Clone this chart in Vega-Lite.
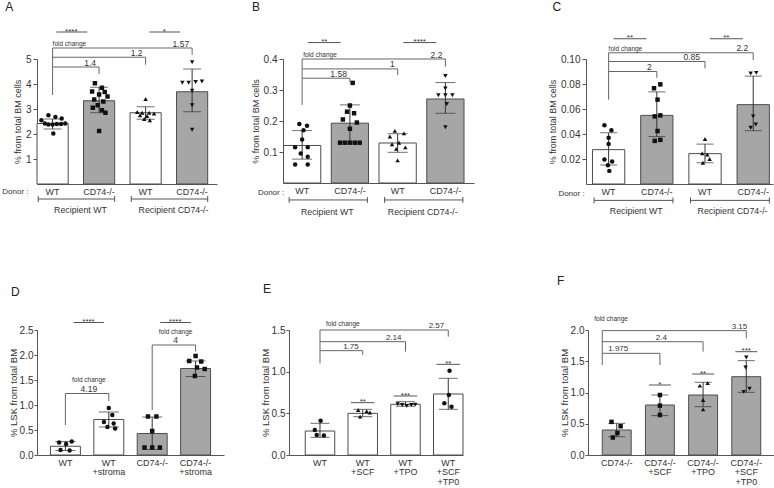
{
"$schema":"https://vega.github.io/schema/vega-lite/v6.json",
"background":"white",
"padding":{"left":2,"top":0,"right":0,"bottom":0},
"config":{
 "view":{"stroke":null},
 "font":"Liberation Sans",
 "title":{"fontSize":12,"fontWeight":"normal","color":"#222","font":"Liberation Sans"},
 "axis":{"labelFont":"Liberation Sans","titleFont":"Liberation Sans","domainColor":"#555","tickColor":"#555","labelColor":"#333","titleColor":"#333","grid":false,"titleFontWeight":"normal"},
 "axisX":{"ticks":false,"labelAngle":0,"labelFontSize":9,"labelPadding":3,"labelLineHeight":9.5,"labelOverlap":false},
 "axisY":{"labelFontSize":10,"titleFontSize":9,"tickSize":4,"labelPadding":2,"titlePadding":3,"labelOverlap":false},
 "text":{"font":"Liberation Sans","color":"#333"}
},
"datasets":{
 "A_b":[{"c":"WT","g":"WT","y":2.42,"lo":2.2,"hi":2.6},{"c":"CD74-/-","g":"CD74-/-","y":3.33,"lo":2.85,"hi":3.87},{"c":"WT ","g":"WT","y":2.85,"lo":2.59,"hi":3.09},{"c":"CD74-/- ","g":"CD74-/-","y":3.69,"lo":2.89,"hi":4.6}],
 "A_p":[{"c":"WT","y":2.75,"j":-0.3},{"c":"WT","y":2.68,"j":0.2},{"c":"WT","y":2.62,"j":0.65},{"c":"WT","y":2.55,"j":-0.8},{"c":"WT","y":2.42,"j":-0.55},{"c":"WT","y":2.38,"j":-0.3},{"c":"WT","y":2.38,"j":0},{"c":"WT","y":2.4,"j":0.3},{"c":"WT","y":2.4,"j":0.6},{"c":"WT","y":2.42,"j":0.9},{"c":"WT","y":2.02,"j":0.05},
  {"c":"CD74-/-","y":4.03,"j":-0.3},{"c":"CD74-/-","y":3.85,"j":0.2},{"c":"CD74-/-","y":3.7,"j":-0.5},{"c":"CD74-/-","y":3.68,"j":0.4},{"c":"CD74-/-","y":3.58,"j":0},{"c":"CD74-/-","y":3.5,"j":0.6},{"c":"CD74-/-","y":3.38,"j":-0.35},{"c":"CD74-/-","y":3.3,"j":0.3},{"c":"CD74-/-","y":3.15,"j":-0.1},{"c":"CD74-/-","y":3.05,"j":-0.45},{"c":"CD74-/-","y":2.95,"j":0.2},{"c":"CD74-/-","y":2.85,"j":0.45},{"c":"CD74-/-","y":2.12,"j":0},
  {"c":"WT ","y":3.4,"j":0},{"c":"WT ","y":2.88,"j":-0.6},{"c":"WT ","y":2.85,"j":-0.25},{"c":"WT ","y":2.85,"j":0.25},{"c":"WT ","y":2.82,"j":0.6},{"c":"WT ","y":2.75,"j":-0.4},{"c":"WT ","y":2.72,"j":0.1},{"c":"WT ","y":2.6,"j":-0.1},{"c":"WT ","y":2.55,"j":0.3},
  {"c":"CD74-/- ","y":4.87,"j":0},{"c":"CD74-/- ","y":4.05,"j":-0.7},{"c":"CD74-/- ","y":4.05,"j":-0.25},{"c":"CD74-/- ","y":4.08,"j":0.25},{"c":"CD74-/- ","y":4.1,"j":0.7},{"c":"CD74-/- ","y":3.73,"j":0},{"c":"CD74-/- ","y":3.15,"j":0},{"c":"CD74-/- ","y":2.17,"j":0}],
 "B_b":[{"c":"WT","g":"WT","y":0.121,"lo":0.077,"hi":0.169},{"c":"CD74-/-","g":"CD74-/-","y":0.193,"lo":0.131,"hi":0.252},{"c":"WT ","g":"WT","y":0.129,"lo":0.099,"hi":0.159},{"c":"CD74-/- ","g":"CD74-/-","y":0.271,"lo":0.225,"hi":0.324}],
 "B_p":[{"c":"WT","y":0.19,"j":-0.2},{"c":"WT","y":0.185,"j":0.35},{"c":"WT","y":0.17,"j":0.1},{"c":"WT","y":0.14,"j":0},{"c":"WT","y":0.115,"j":-0.5},{"c":"WT","y":0.115,"j":0.4},{"c":"WT","y":0.095,"j":-0.1},{"c":"WT","y":0.085,"j":0.4},{"c":"WT","y":0.06,"j":-0.5},{"c":"WT","y":0.06,"j":0.4},
  {"c":"CD74-/-","y":0.323,"j":0.2},{"c":"CD74-/-","y":0.25,"j":0},{"c":"CD74-/-","y":0.23,"j":-0.2},{"c":"CD74-/-","y":0.225,"j":0.3},{"c":"CD74-/-","y":0.205,"j":-0.5},{"c":"CD74-/-","y":0.195,"j":0.5},{"c":"CD74-/-","y":0.175,"j":0},{"c":"CD74-/-","y":0.13,"j":-0.7},{"c":"CD74-/-","y":0.13,"j":-0.35},{"c":"CD74-/-","y":0.13,"j":0},{"c":"CD74-/-","y":0.13,"j":0.35},{"c":"CD74-/-","y":0.13,"j":0.7},
  {"c":"WT ","y":0.168,"j":-0.2},{"c":"WT ","y":0.16,"j":0.45},{"c":"WT ","y":0.15,"j":-0.55},{"c":"WT ","y":0.13,"j":0.1},{"c":"WT ","y":0.125,"j":-0.4},{"c":"WT ","y":0.115,"j":0.55},{"c":"WT ","y":0.11,"j":-0.1},{"c":"WT ","y":0.073,"j":0},
  {"c":"CD74-/- ","y":0.345,"j":0},{"c":"CD74-/- ","y":0.305,"j":0},{"c":"CD74-/- ","y":0.283,"j":-0.5},{"c":"CD74-/- ","y":0.283,"j":0},{"c":"CD74-/- ","y":0.283,"j":0.5},{"c":"CD74-/- ","y":0.255,"j":0.1},{"c":"CD74-/- ","y":0.18,"j":0}],
 "C_b":[{"c":"WT","g":"WT","y":0.0275,"lo":0.0152,"hi":0.041},{"c":"CD74-/-","g":"CD74-/-","y":0.0549,"lo":0.0379,"hi":0.0737},{"c":"WT ","g":"WT","y":0.0243,"lo":0.017,"hi":0.0319},{"c":"CD74-/- ","g":"CD74-/-","y":0.0635,"lo":0.0426,"hi":0.0863}],
 "C_p":[{"c":"WT","y":0.047,"j":-0.3},{"c":"WT","y":0.043,"j":0.2},{"c":"WT","y":0.037,"j":0},{"c":"WT","y":0.032,"j":0},{"c":"WT","y":0.0196,"j":-0.3},{"c":"WT","y":0.018,"j":0.25},{"c":"WT","y":0.015,"j":-0.05},{"c":"WT","y":0.0105,"j":0.05},
  {"c":"CD74-/-","y":0.0797,"j":0.25},{"c":"CD74-/-","y":0.0766,"j":-0.2},{"c":"CD74-/-","y":0.0675,"j":0.05},{"c":"CD74-/-","y":0.0549,"j":0.25},{"c":"CD74-/-","y":0.0541,"j":-0.15},{"c":"CD74-/-","y":0.0424,"j":0.05},{"c":"CD74-/-","y":0.0353,"j":0.25},{"c":"CD74-/-","y":0.0345,"j":-0.15},
  {"c":"WT ","y":0.036,"j":0},{"c":"WT ","y":0.0245,"j":-0.2},{"c":"WT ","y":0.0235,"j":0.17},{"c":"WT ","y":0.02,"j":0.33},{"c":"WT ","y":0.017,"j":-0.15},
  {"c":"CD74-/- ","y":0.0884,"j":-0.18},{"c":"CD74-/- ","y":0.0889,"j":0.22},{"c":"CD74-/- ","y":0.0541,"j":0},{"c":"CD74-/- ","y":0.0476,"j":0.18},{"c":"CD74-/- ","y":0.045,"j":-0.18}],
 "D_b":[{"c":"WT","g":"WT","y":0.175,"lo":0.09,"hi":0.27},{"c":"WT|+stroma","g":"WT","y":0.71,"lo":0.56,"hi":0.86},{"c":"CD74-/-","g":"CD74-/-","y":0.43,"lo":0.11,"hi":0.76},{"c":"CD74-/-|+stroma","g":"CD74-/-","y":1.73,"lo":1.57,"hi":1.88}],
 "D_p":[{"c":"WT","y":0.27,"j":0.45},{"c":"WT","y":0.25,"j":-0.45},{"c":"WT","y":0.22,"j":0.05},{"c":"WT","y":0.1,"j":-0.35},{"c":"WT","y":0.09,"j":0.3},
  {"c":"WT|+stroma","y":0.94,"j":0},{"c":"WT|+stroma","y":0.8,"j":0.25},{"c":"WT|+stroma","y":0.66,"j":-0.35},{"c":"WT|+stroma","y":0.63,"j":0.35},{"c":"WT|+stroma","y":0.56,"j":-0.1},{"c":"WT|+stroma","y":0.53,"j":0.45},
  {"c":"CD74-/-","y":0.77,"j":-0.3},{"c":"CD74-/-","y":0.77,"j":0.3},{"c":"CD74-/-","y":0.48,"j":0},{"c":"CD74-/-","y":0.15,"j":-0.55},{"c":"CD74-/-","y":0.15,"j":0},{"c":"CD74-/-","y":0.15,"j":0.55},
  {"c":"CD74-/-|+stroma","y":1.98,"j":0},{"c":"CD74-/-|+stroma","y":1.88,"j":-0.45},{"c":"CD74-/-|+stroma","y":1.87,"j":0.4},{"c":"CD74-/-|+stroma","y":1.75,"j":0.1},{"c":"CD74-/-|+stroma","y":1.72,"j":0.65},{"c":"CD74-/-|+stroma","y":1.58,"j":-0.05}],
 "E_b":[{"c":"WT","g":"WT","y":0.288,"lo":0.212,"hi":0.38},{"c":"WT|+SCF","g":"WT","y":0.5,"lo":0.46,"hi":0.548},{"c":"WT|+TPO","g":"WT","y":0.608,"lo":0.585,"hi":0.64},{"c":"WT|+SCF|+TP0","g":"WT","y":0.732,"lo":0.548,"hi":0.92}],
 "E_p":[{"c":"WT","y":0.41,"j":0.05},{"c":"WT","y":0.3,"j":-0.4},{"c":"WT","y":0.24,"j":-0.25},{"c":"WT","y":0.235,"j":0.3},
  {"c":"WT|+SCF","y":0.54,"j":-0.35},{"c":"WT|+SCF","y":0.525,"j":0.3},{"c":"WT|+SCF","y":0.51,"j":0.55},{"c":"WT|+SCF","y":0.46,"j":-0.2},
  {"c":"WT|+TPO","y":0.61,"j":-0.6},{"c":"WT|+TPO","y":0.6,"j":-0.25},{"c":"WT|+TPO","y":0.59,"j":0.1},{"c":"WT|+TPO","y":0.6,"j":0.45},{"c":"WT|+TPO","y":0.605,"j":0.75},
  {"c":"WT|+SCF|+TP0","y":1.01,"j":0.1},{"c":"WT|+SCF|+TP0","y":0.72,"j":0.05},{"c":"WT|+SCF|+TP0","y":0.62,"j":-0.3},{"c":"WT|+SCF|+TP0","y":0.58,"j":0.25}],
 "F_b":[{"c":"CD74-/-","g":"CD74-/-","y":0.4,"lo":0.293,"hi":0.507},{"c":"CD74-/-|+SCF","g":"CD74-/-","y":0.8,"lo":0.63,"hi":0.96},{"c":"CD74-/-|+TPO","g":"CD74-/-","y":0.96,"lo":0.773,"hi":1.163},{"c":"CD74-/-|+SCF|+TP0","g":"CD74-/-","y":1.253,"lo":1.003,"hi":1.51}],
 "F_p":[{"c":"CD74-/-","y":0.53,"j":-0.4},{"c":"CD74-/-","y":0.46,"j":0.3},{"c":"CD74-/-","y":0.35,"j":0.05},{"c":"CD74-/-","y":0.28,"j":-0.3},
  {"c":"CD74-/-|+SCF","y":0.96,"j":0},{"c":"CD74-/-|+SCF","y":0.79,"j":0},{"c":"CD74-/-|+SCF","y":0.64,"j":0},
  {"c":"CD74-/-|+TPO","y":1.15,"j":0.35},{"c":"CD74-/-|+TPO","y":1.11,"j":-0.25},{"c":"CD74-/-|+TPO","y":0.88,"j":0},{"c":"CD74-/-|+TPO","y":0.73,"j":0},
  {"c":"CD74-/-|+SCF|+TP0","y":1.56,"j":0},{"c":"CD74-/-|+SCF|+TP0","y":1.4,"j":-0.05},{"c":"CD74-/-|+SCF|+TP0","y":1.06,"j":0.25},{"c":"CD74-/-|+SCF|+TP0","y":1.01,"j":-0.2}]
},
"spacing":58,
"vconcat":[
{"spacing":34,"hconcat":[
 {"width":180,"height":125,
  "title":{"text":"A","anchor":"start","frame":"bounds","offset":14,"dx":3},
  "resolve":{"scale":{"xOffset":"independent"}},
  "layer":[
   {"data":{"name":"A_b"},"mark":{"type":"bar","stroke":"#4d4d4d","strokeWidth":1},
    "encoding":{"x":{"field":"c","type":"nominal","scale":{"domain":["WT","CD74-/-","WT ","CD74-/- "],"paddingInner":0.33,"paddingOuter":0.1,"align":0},"axis":{"title":null,"labelExpr":"trim(datum.label)"}},
     "y":{"field":"y","type":"quantitative","scale":{"domain":[0,5],"nice":false},"axis":{"title":"% from total BM cells","values":[1,2,3,4,5],"format":"d","tickCount":20,"labelOverlap":false}},
     "fill":{"field":"g","type":"nominal","scale":{"domain":["WT","CD74-/-"],"range":["#ffffff","#a6a6a6"]},"legend":null}}},
   {"data":{"name":"A_b"},"mark":{"type":"rule","color":"#333"},"encoding":{"x":{"field":"c","type":"nominal"},"y":{"field":"lo","type":"quantitative"},"y2":{"field":"hi"}}},
   {"data":{"name":"A_b"},"transform":[{"fold":["lo","hi"],"as":["k","v"]}],"mark":{"type":"tick","orient":"horizontal","size":18,"thickness":1,"color":"#333"},"encoding":{"x":{"field":"c","type":"nominal"},"y":{"field":"v","type":"quantitative"}}},
   {"data":{"name":"A_p"},"mark":{"type":"point","filled":true,"color":"#111","size":20,"opacity":1},
    "encoding":{"x":{"field":"c","type":"nominal"},"xOffset":{"field":"j","type":"quantitative","scale":{"domain":[-1,1],"range":[1.6,29.6]}},"y":{"field":"y","type":"quantitative"},
     "shape":{"field":"c","type":"nominal","scale":{"domain":["WT","CD74-/-","WT ","CD74-/- "],"range":["circle","square","triangle-up","triangle-down"]},"legend":null}}},
   {"data":{"values":[{"c":"WT","y":3.56,"y2":5.44},{"c":"CD74-/-","y":4.4,"y2":4.68},{"c":"WT ","y":4.77,"y2":5.07},{"c":"CD74-/- ","y":5.17,"y2":5.44}]},"mark":{"type":"rule","color":"#666"},"encoding":{"x":{"field":"c","type":"nominal"},"y":{"field":"y","type":"quantitative"},"y2":{"field":"y2"}}},
   {"data":{"values":[{"c":"WT","c2":"CD74-/-","y":4.68},{"c":"WT","c2":"WT ","y":5.07},{"c":"WT","c2":"CD74-/- ","y":5.44}]},"mark":{"type":"rule","color":"#666"},"encoding":{"x":{"field":"c","type":"nominal"},"x2":{"field":"c2"},"y":{"field":"y","type":"quantitative"}}},
   {"data":{"values":[{"c":"WT","c2":"CD74-/-","y":6.08},{"c":"WT ","c2":"CD74-/- ","y":6.08}]},"mark":{"type":"rule","color":"#555"},"encoding":{"x":{"field":"c","type":"nominal","bandPosition":0.62},"x2":{"field":"c2","bandPosition":0.12},"y":{"field":"y","type":"quantitative"}}},
   {"data":{"values":[{"c":"WT","y":6.08,"t":"****"},{"c":"WT ","y":6.08,"t":"*"}]},"mark":{"type":"text","align":"center","baseline":"alphabetic","dx":15,"dy":1.5,"fontSize":8},"encoding":{"x":{"field":"c","type":"nominal","bandPosition":0.62},"y":{"field":"y","type":"quantitative"},"text":{"field":"t"}}},
   {"data":{"values":[{"c":"WT","c2":"CD74-/-","y":-0.6},{"c":"WT ","c2":"CD74-/- ","y":-0.6}]},"mark":{"type":"rule","color":"#555"},"encoding":{"x":{"field":"c","type":"nominal","bandPosition":0.04},"x2":{"field":"c2","bandPosition":1},"y":{"field":"y","type":"quantitative"}}},
   {"data":{"values":[{"c":"WT","y":-0.48,"y2":-0.72},{"c":"WT ","y":-0.48,"y2":-0.72}]},"mark":{"type":"rule","color":"#555"},"encoding":{"x":{"field":"c","type":"nominal","bandPosition":0.04},"y":{"field":"y","type":"quantitative"},"y2":{"field":"y2"}}},
   {"data":{"values":[{"c":"CD74-/-","y":-0.48,"y2":-0.72},{"c":"CD74-/- ","y":-0.48,"y2":-0.72}]},"mark":{"type":"rule","color":"#555"},"encoding":{"x":{"field":"c","type":"nominal","bandPosition":1},"y":{"field":"y","type":"quantitative"},"y2":{"field":"y2"}}},
   {"data":{"values":[{"c":"CD74-/-","y":4.68,"t":"1.4"},{"c":"WT ","y":5.07,"t":"1.2"},{"c":"CD74-/- ","y":5.44,"t":"1.57"}]},"mark":{"type":"text","align":"right","baseline":"alphabetic","dx":-3,"dy":-1.5,"fontSize":8.5},"encoding":{"x":{"field":"c","type":"nominal"},"y":{"field":"y","type":"quantitative"},"text":{"field":"t"}}},
   {"data":{"values":[{"c":"WT","y":5.44,"t":"fold change"}]},"mark":{"type":"text","align":"left","baseline":"alphabetic","dx":0,"dy":-2,"fontSize":6.5},"encoding":{"x":{"field":"c","type":"nominal"},"y":{"field":"y","type":"quantitative"},"text":{"field":"t"}}},
   {"data":{"values":[{"c":"WT","y":-0.32,"t":"Donor :"}]},"mark":{"type":"text","align":"right","baseline":"middle","dx":-24,"fontSize":8},"encoding":{"x":{"field":"c","type":"nominal"},"y":{"field":"y","type":"quantitative"},"text":{"field":"t"}}},
   {"data":{"values":[{"c":"CD74-/-","y":-1.04,"t":"Recipient WT"},{"c":"CD74-/- ","y":-1.04,"t":"Recipient CD74-/-"}]},"mark":{"type":"text","align":"center","baseline":"middle","dx":-3,"fontSize":8.8},"encoding":{"x":{"field":"c","type":"nominal","bandPosition":0},"y":{"field":"y","type":"quantitative"},"text":{"field":"t"}}}
  ]},
 {"spacing":74,"hconcat":[
 {"width":191,"height":124,
  "title":{"text":"B","anchor":"start","frame":"bounds","offset":24,"dx":1},
  "resolve":{"scale":{"xOffset":"independent"}},
  "layer":[
   {"data":{"name":"B_b"},"mark":{"type":"bar","stroke":"#4d4d4d","strokeWidth":1},
    "encoding":{"x":{"field":"c","type":"nominal","scale":{"domain":["WT","CD74-/-","WT ","CD74-/- "],"paddingInner":0.22,"paddingOuter":0.11,"align":0.05},"axis":{"title":null,"labelExpr":"trim(datum.label)"}},
     "y":{"field":"y","type":"quantitative","scale":{"domain":[0,0.4],"nice":false},"axis":{"title":"% from total BM cells","values":[0.1,0.2,0.3,0.4],"format":".1f","tickCount":20,"labelOverlap":false}},
     "fill":{"field":"g","type":"nominal","scale":{"domain":["WT","CD74-/-"],"range":["#ffffff","#a6a6a6"]},"legend":null}}},
   {"data":{"name":"B_b"},"mark":{"type":"rule","color":"#333"},"encoding":{"x":{"field":"c","type":"nominal"},"y":{"field":"lo","type":"quantitative"},"y2":{"field":"hi"}}},
   {"data":{"name":"B_b"},"transform":[{"fold":["lo","hi"],"as":["k","v"]}],"mark":{"type":"tick","orient":"horizontal","size":20,"thickness":1,"color":"#333"},"encoding":{"x":{"field":"c","type":"nominal"},"y":{"field":"v","type":"quantitative"}}},
   {"data":{"name":"B_p"},"mark":{"type":"point","filled":true,"color":"#111","size":20,"opacity":1},
    "encoding":{"x":{"field":"c","type":"nominal"},"xOffset":{"field":"j","type":"quantitative","scale":{"domain":[-1,1],"range":[4.6,32.6]}},"y":{"field":"y","type":"quantitative"},
     "shape":{"field":"c","type":"nominal","scale":{"domain":["WT","CD74-/-","WT ","CD74-/- "],"range":["circle","square","triangle-up","triangle-down"]},"legend":null}}},
   {"data":{"values":[{"c":"WT","y":0.252,"y2":0.4},{"c":"CD74-/-","y":0.324,"y2":0.338},{"c":"WT ","y":0.348,"y2":0.368},{"c":"CD74-/- ","y":0.375,"y2":0.4}]},"mark":{"type":"rule","color":"#666"},"encoding":{"x":{"field":"c","type":"nominal"},"y":{"field":"y","type":"quantitative"},"y2":{"field":"y2"}}},
   {"data":{"values":[{"c":"WT","c2":"CD74-/-","y":0.338},{"c":"WT","c2":"WT ","y":0.368},{"c":"WT","c2":"CD74-/- ","y":0.4}]},"mark":{"type":"rule","color":"#666"},"encoding":{"x":{"field":"c","type":"nominal"},"x2":{"field":"c2"},"y":{"field":"y","type":"quantitative"}}},
   {"data":{"values":[{"c":"WT","c2":"CD74-/-","y":0.453},{"c":"WT ","c2":"CD74-/- ","y":0.453}]},"mark":{"type":"rule","color":"#555"},"encoding":{"x":{"field":"c","type":"nominal","bandPosition":0.65},"x2":{"field":"c2","bandPosition":0.25},"y":{"field":"y","type":"quantitative"}}},
   {"data":{"values":[{"c":"WT","y":0.453,"t":"**"},{"c":"WT ","y":0.453,"t":"****"}]},"mark":{"type":"text","align":"center","baseline":"alphabetic","dx":16.5,"dy":1.5,"fontSize":8},"encoding":{"x":{"field":"c","type":"nominal","bandPosition":0.65},"y":{"field":"y","type":"quantitative"},"text":{"field":"t"}}},
   {"data":{"values":[{"c":"WT","c2":"CD74-/-","y":-0.0547},{"c":"WT ","c2":"CD74-/- ","y":-0.0547}]},"mark":{"type":"rule","color":"#555"},"encoding":{"x":{"field":"c","type":"nominal","bandPosition":0.15},"x2":{"field":"c2","bandPosition":0.97},"y":{"field":"y","type":"quantitative"}}},
   {"data":{"values":[{"c":"WT","y":-0.045,"y2":-0.064},{"c":"WT ","y":-0.045,"y2":-0.064}]},"mark":{"type":"rule","color":"#555"},"encoding":{"x":{"field":"c","type":"nominal","bandPosition":0.15},"y":{"field":"y","type":"quantitative"},"y2":{"field":"y2"}}},
   {"data":{"values":[{"c":"CD74-/-","y":-0.045,"y2":-0.064},{"c":"CD74-/- ","y":-0.045,"y2":-0.064}]},"mark":{"type":"rule","color":"#555"},"encoding":{"x":{"field":"c","type":"nominal","bandPosition":0.97},"y":{"field":"y","type":"quantitative"},"y2":{"field":"y2"}}},
   {"data":{"values":[{"c":"CD74-/-","y":0.338,"t":"1.58"},{"c":"WT ","y":0.368,"t":"1"},{"c":"CD74-/- ","y":0.4,"t":"2.2"}]},"mark":{"type":"text","align":"right","baseline":"alphabetic","dx":-3,"dy":-1.5,"fontSize":8.5},"encoding":{"x":{"field":"c","type":"nominal"},"y":{"field":"y","type":"quantitative"},"text":{"field":"t"}}},
   {"data":{"values":[{"c":"WT","y":0.4,"t":"fold change"}]},"mark":{"type":"text","align":"left","baseline":"alphabetic","dx":1,"dy":-2,"fontSize":6.5},"encoding":{"x":{"field":"c","type":"nominal"},"y":{"field":"y","type":"quantitative"},"text":{"field":"t"}}},
   {"data":{"values":[{"c":"WT","y":-0.032,"t":"Donor :"}]},"mark":{"type":"text","align":"right","baseline":"middle","dx":-18,"fontSize":8},"encoding":{"x":{"field":"c","type":"nominal"},"y":{"field":"y","type":"quantitative"},"text":{"field":"t"}}},
   {"data":{"values":[{"c":"CD74-/-","y":-0.092,"t":"Recipient WT"},{"c":"CD74-/- ","y":-0.092,"t":"Recipient CD74-/-"}]},"mark":{"type":"text","align":"center","baseline":"middle","dx":-4,"fontSize":8.8},"encoding":{"x":{"field":"c","type":"nominal","bandPosition":0},"y":{"field":"y","type":"quantitative"},"text":{"field":"t"}}}
  ]},
 {"width":187,"height":125,
  "title":{"text":"C","anchor":"start","frame":"bounds","offset":20,"dx":4},
  "resolve":{"scale":{"xOffset":"independent"}},
  "layer":[
   {"data":{"name":"C_b"},"mark":{"type":"bar","stroke":"#4d4d4d","strokeWidth":1},
    "encoding":{"x":{"field":"c","type":"nominal","scale":{"domain":["WT","CD74-/-","WT ","CD74-/- "],"paddingInner":0.33,"paddingOuter":0.105,"align":0.64},"axis":{"title":null,"labelExpr":"trim(datum.label)"}},
     "y":{"field":"y","type":"quantitative","scale":{"domain":[0,0.1],"nice":false},"axis":{"title":"% from total BM cells","values":[0.02,0.04,0.06,0.08,0.1],"format":".2f","tickCount":20,"labelOverlap":false}},
     "fill":{"field":"g","type":"nominal","scale":{"domain":["WT","CD74-/-"],"range":["#ffffff","#a6a6a6"]},"legend":null}}},
   {"data":{"name":"C_b"},"mark":{"type":"rule","color":"#333"},"encoding":{"x":{"field":"c","type":"nominal"},"y":{"field":"lo","type":"quantitative"},"y2":{"field":"hi"}}},
   {"data":{"name":"C_b"},"transform":[{"fold":["lo","hi"],"as":["k","v"]}],"mark":{"type":"tick","orient":"horizontal","size":17,"thickness":1,"color":"#333"},"encoding":{"x":{"field":"c","type":"nominal"},"y":{"field":"v","type":"quantitative"}}},
   {"data":{"name":"C_p"},"mark":{"type":"point","filled":true,"color":"#111","size":20,"opacity":1},
    "encoding":{"x":{"field":"c","type":"nominal"},"xOffset":{"field":"j","type":"quantitative","scale":{"domain":[-1,1],"range":[2.15,30.15]}},"y":{"field":"y","type":"quantitative"},
     "shape":{"field":"c","type":"nominal","scale":{"domain":["WT","CD74-/-","WT ","CD74-/- "],"range":["circle","square","triangle-up","triangle-down"]},"legend":null}}},
   {"data":{"values":[{"c":"WT","y":0.0675,"y2":0.105},{"c":"CD74-/-","y":0.085,"y2":0.09},{"c":"WT ","y":0.0925,"y2":0.098},{"c":"CD74-/- ","y":0.0992,"y2":0.105}]},"mark":{"type":"rule","color":"#666"},"encoding":{"x":{"field":"c","type":"nominal"},"y":{"field":"y","type":"quantitative"},"y2":{"field":"y2"}}},
   {"data":{"values":[{"c":"WT","c2":"CD74-/-","y":0.09},{"c":"WT","c2":"WT ","y":0.098},{"c":"WT","c2":"CD74-/- ","y":0.105}]},"mark":{"type":"rule","color":"#666"},"encoding":{"x":{"field":"c","type":"nominal"},"x2":{"field":"c2"},"y":{"field":"y","type":"quantitative"}}},
   {"data":{"values":[{"c":"WT","c2":"CD74-/-","y":0.1162},{"c":"WT ","c2":"CD74-/- ","y":0.1162}]},"mark":{"type":"rule","color":"#555"},"encoding":{"x":{"field":"c","type":"nominal","bandPosition":0.65},"x2":{"field":"c2","bandPosition":0.18},"y":{"field":"y","type":"quantitative"}}},
   {"data":{"values":[{"c":"WT","y":0.1162,"t":"**"},{"c":"WT ","y":0.1162,"t":"**"}]},"mark":{"type":"text","align":"center","baseline":"alphabetic","dx":16.5,"dy":1.5,"fontSize":8},"encoding":{"x":{"field":"c","type":"nominal","bandPosition":0.65},"y":{"field":"y","type":"quantitative"},"text":{"field":"t"}}},
   {"data":{"values":[{"c":"WT","c2":"CD74-/-","y":-0.0131},{"c":"WT ","c2":"CD74-/- ","y":-0.0131}]},"mark":{"type":"rule","color":"#555"},"encoding":{"x":{"field":"c","type":"nominal","bandPosition":0.05},"x2":{"field":"c2","bandPosition":1},"y":{"field":"y","type":"quantitative"}}},
   {"data":{"values":[{"c":"WT","y":-0.0107,"y2":-0.0155},{"c":"WT ","y":-0.0107,"y2":-0.0155}]},"mark":{"type":"rule","color":"#555"},"encoding":{"x":{"field":"c","type":"nominal","bandPosition":0.05},"y":{"field":"y","type":"quantitative"},"y2":{"field":"y2"}}},
   {"data":{"values":[{"c":"CD74-/-","y":-0.0107,"y2":-0.0155},{"c":"CD74-/- ","y":-0.0107,"y2":-0.0155}]},"mark":{"type":"rule","color":"#555"},"encoding":{"x":{"field":"c","type":"nominal","bandPosition":1},"y":{"field":"y","type":"quantitative"},"y2":{"field":"y2"}}},
   {"data":{"values":[{"c":"CD74-/-","y":0.09,"t":"2"},{"c":"WT ","y":0.098,"t":"0.85"},{"c":"CD74-/- ","y":0.105,"t":"2.2"}]},"mark":{"type":"text","align":"right","baseline":"alphabetic","dx":-5,"dy":-1.5,"fontSize":8.5},"encoding":{"x":{"field":"c","type":"nominal"},"y":{"field":"y","type":"quantitative"},"text":{"field":"t"}}},
   {"data":{"values":[{"c":"WT","y":0.105,"t":"fold change"}]},"mark":{"type":"text","align":"left","baseline":"alphabetic","dx":0,"dy":-2,"fontSize":6.5},"encoding":{"x":{"field":"c","type":"nominal"},"y":{"field":"y","type":"quantitative"},"text":{"field":"t"}}},
   {"data":{"values":[{"c":"WT","y":-0.0076,"t":"Donor :"}]},"mark":{"type":"text","align":"right","baseline":"middle","dx":-24,"fontSize":8},"encoding":{"x":{"field":"c","type":"nominal"},"y":{"field":"y","type":"quantitative"},"text":{"field":"t"}}},
   {"data":{"values":[{"c":"CD74-/-","y":-0.0215,"t":"Recipient WT"},{"c":"CD74-/- ","y":-0.0215,"t":"Recipient CD74-/-"}]},"mark":{"type":"text","align":"center","baseline":"middle","dx":-4.5,"fontSize":8.8},"encoding":{"x":{"field":"c","type":"nominal","bandPosition":0},"y":{"field":"y","type":"quantitative"},"text":{"field":"t"}}}
  ]}
 ]}
]},
{"spacing":36,"hconcat":[
 {"width":187,"height":125,
  "title":{"text":"D","anchor":"start","frame":"bounds","offset":19,"dx":3},
  "resolve":{"scale":{"xOffset":"independent"}},
  "layer":[
   {"data":{"name":"D_b"},"mark":{"type":"bar","stroke":"#4d4d4d","strokeWidth":1},
    "encoding":{"x":{"field":"c","type":"nominal","scale":{"domain":["WT","WT|+stroma","CD74-/-","CD74-/-|+stroma"],"paddingInner":0.31,"paddingOuter":0.31,"align":0.5},"axis":{"title":null,"labelExpr":"split(datum.label,'|')"}},
     "y":{"field":"y","type":"quantitative","scale":{"domain":[0,2.5],"nice":false},"axis":{"title":"% LSK from total BM","values":[0,0.5,1,1.5,2,2.5],"format":".1f","tickCount":20,"titleFontSize":9.5,"tickSize":3,"labelPadding":1,"titlePadding":1,"labelOverlap":false}},
     "fill":{"field":"g","type":"nominal","scale":{"domain":["WT","CD74-/-"],"range":["#ffffff","#a6a6a6"]},"legend":null}}},
   {"data":{"name":"D_b"},"mark":{"type":"rule","color":"#333"},"encoding":{"x":{"field":"c","type":"nominal"},"y":{"field":"lo","type":"quantitative"},"y2":{"field":"hi"}}},
   {"data":{"name":"D_b"},"transform":[{"fold":["lo","hi"],"as":["k","v"]}],"mark":{"type":"tick","orient":"horizontal","size":20,"thickness":1,"color":"#333"},"encoding":{"x":{"field":"c","type":"nominal"},"y":{"field":"v","type":"quantitative"}}},
   {"data":{"name":"D_p"},"mark":{"type":"point","filled":true,"color":"#111","size":20,"opacity":1},
    "encoding":{"x":{"field":"c","type":"nominal"},"xOffset":{"field":"j","type":"quantitative","scale":{"domain":[-1,1],"range":[0.97,28.97]}},"y":{"field":"y","type":"quantitative"},
     "shape":{"field":"c","type":"nominal","scale":{"domain":["WT","WT|+stroma","CD74-/-","CD74-/-|+stroma"],"range":["circle","square","triangle-up","triangle-down"]},"legend":null}}},
   {"data":{"values":[{"c":"WT","y":0.6,"y2":1.23},{"c":"WT|+stroma","y":1.08,"y2":1.23},{"c":"CD74-/-","y":0.9,"y2":2.2},{"c":"CD74-/-|+stroma","y":2.07,"y2":2.2}]},"mark":{"type":"rule","color":"#666"},"encoding":{"x":{"field":"c","type":"nominal"},"y":{"field":"y","type":"quantitative"},"y2":{"field":"y2"}}},
   {"data":{"values":[{"c":"WT","c2":"WT|+stroma","y":1.23},{"c":"CD74-/-","c2":"CD74-/-|+stroma","y":2.2}]},"mark":{"type":"rule","color":"#666"},"encoding":{"x":{"field":"c","type":"nominal"},"x2":{"field":"c2"},"y":{"field":"y","type":"quantitative"}}},
   {"data":{"values":[{"c":"WT","c2":"WT|+stroma","y":2.65},{"c":"CD74-/-","c2":"CD74-/-|+stroma","y":2.65}]},"mark":{"type":"rule","color":"#555"},"encoding":{"x":{"field":"c","type":"nominal","bandPosition":0.77},"x2":{"field":"c2","bandPosition":0.34},"y":{"field":"y","type":"quantitative"}}},
   {"data":{"values":[{"c":"WT","y":2.65,"t":"****"},{"c":"CD74-/-","y":2.65,"t":"****"}]},"mark":{"type":"text","align":"center","baseline":"alphabetic","dx":15,"dy":1.5,"fontSize":8},"encoding":{"x":{"field":"c","type":"nominal","bandPosition":0.77},"y":{"field":"y","type":"quantitative"},"text":{"field":"t"}}},
   {"data":{"values":[{"c":"WT|+stroma","y":1.23,"t":"4.19"},{"c":"CD74-/-|+stroma","y":2.2,"t":"4"}]},"mark":{"type":"text","align":"center","baseline":"alphabetic","dx":-5,"dy":-2,"fontSize":8.5},"encoding":{"x":{"field":"c","type":"nominal","bandPosition":0},"y":{"field":"y","type":"quantitative"},"text":{"field":"t"}}},
   {"data":{"values":[{"c":"WT|+stroma","y":1.46,"t":"fold change"},{"c":"CD74-/-|+stroma","y":2.43,"t":"fold change"}]},"mark":{"type":"text","align":"center","baseline":"alphabetic","dx":-5,"fontSize":6.5},"encoding":{"x":{"field":"c","type":"nominal","bandPosition":0},"y":{"field":"y","type":"quantitative"},"text":{"field":"t"}}}
  ]},
 {"spacing":93,"hconcat":[
 {"width":174,"height":125,
  "title":{"text":"E","anchor":"start","frame":"bounds","offset":25,"dx":3},
  "resolve":{"scale":{"xOffset":"independent"}},
  "layer":[
   {"data":{"name":"E_b"},"mark":{"type":"bar","stroke":"#4d4d4d","strokeWidth":1},
    "encoding":{"x":{"field":"c","type":"nominal","scale":{"domain":["WT","WT|+SCF","WT|+TPO","WT|+SCF|+TP0"],"paddingInner":0.31,"paddingOuter":0.19,"align":1},"axis":{"title":null,"labelExpr":"split(datum.label,'|')"}},
     "y":{"field":"y","type":"quantitative","scale":{"domain":[0,1.5],"nice":false},"axis":{"title":"% LSK from total BM","values":[0,0.5,1,1.5],"format":".1f","tickCount":20,"titleFontSize":9.5,"tickSize":3,"labelPadding":1,"titlePadding":1,"labelOverlap":false}},
     "fill":{"field":"g","type":"nominal","scale":{"domain":["WT","CD74-/-"],"range":["#ffffff","#a6a6a6"]},"legend":null}}},
   {"data":{"name":"E_b"},"mark":{"type":"rule","color":"#333"},"encoding":{"x":{"field":"c","type":"nominal"},"y":{"field":"lo","type":"quantitative"},"y2":{"field":"hi"}}},
   {"data":{"name":"E_b"},"transform":[{"fold":["lo","hi"],"as":["k","v"]}],"mark":{"type":"tick","orient":"horizontal","size":19,"thickness":1,"color":"#333"},"encoding":{"x":{"field":"c","type":"nominal"},"y":{"field":"v","type":"quantitative"}}},
   {"data":{"name":"E_p"},"mark":{"type":"point","filled":true,"color":"#111","size":20,"opacity":1},
    "encoding":{"x":{"field":"c","type":"nominal"},"xOffset":{"field":"j","type":"quantitative","scale":{"domain":[-1,1],"range":[1.75,27.75]}},"y":{"field":"y","type":"quantitative"},
     "shape":{"field":"c","type":"nominal","scale":{"domain":["WT","WT|+SCF","WT|+TPO","WT|+SCF|+TP0"],"range":["circle","square","triangle-up","triangle-down"]},"legend":null}}},
   {"data":{"values":[{"c":"WT","y":1.1,"y2":1.5},{"c":"WT|+SCF","y":1.2,"y2":1.252},{"c":"WT|+TPO","y":1.24,"y2":1.36},{"c":"WT|+SCF|+TP0","y":1.42,"y2":1.5}]},"mark":{"type":"rule","color":"#666"},"encoding":{"x":{"field":"c","type":"nominal"},"y":{"field":"y","type":"quantitative"},"y2":{"field":"y2"}}},
   {"data":{"values":[{"c":"WT","c2":"WT|+SCF","y":1.252},{"c":"WT","c2":"WT|+TPO","y":1.36},{"c":"WT","c2":"WT|+SCF|+TP0","y":1.5}]},"mark":{"type":"rule","color":"#666"},"encoding":{"x":{"field":"c","type":"nominal"},"x2":{"field":"c2"},"y":{"field":"y","type":"quantitative"}}},
   {"data":{"values":[{"c":"WT|+SCF","y":0.628},{"c":"WT|+TPO","y":0.708},{"c":"WT|+SCF|+TP0","y":1.088}]},"mark":{"type":"rule","color":"#555"},"encoding":{"x":{"field":"c","type":"nominal","bandPosition":0.1},"x2":{"field":"c","bandPosition":0.9},"y":{"field":"y","type":"quantitative"}}},
   {"data":{"values":[{"c":"WT|+SCF","y":0.628,"t":"**"},{"c":"WT|+TPO","y":0.708,"t":"***"},{"c":"WT|+SCF|+TP0","y":1.088,"t":"**"}]},"mark":{"type":"text","align":"center","baseline":"alphabetic","dy":1.5,"fontSize":8},"encoding":{"x":{"field":"c","type":"nominal"},"y":{"field":"y","type":"quantitative"},"text":{"field":"t"}}},
   {"data":{"values":[{"c":"WT|+SCF","y":1.252,"t":"1.75"},{"c":"WT|+TPO","y":1.36,"t":"2.14"},{"c":"WT|+SCF|+TP0","y":1.5,"t":"2.57"}]},"mark":{"type":"text","align":"right","baseline":"alphabetic","dx":-4,"dy":-2,"fontSize":8},"encoding":{"x":{"field":"c","type":"nominal"},"y":{"field":"y","type":"quantitative"},"text":{"field":"t"}}},
   {"data":{"values":[{"c":"WT","y":1.554,"t":"fold change"}]},"mark":{"type":"text","align":"left","baseline":"alphabetic","dx":6,"fontSize":6.5},"encoding":{"x":{"field":"c","type":"nominal"},"y":{"field":"y","type":"quantitative"},"text":{"field":"t"}}}
  ]},
 {"width":187,"height":125,
  "title":{"text":"F","anchor":"start","frame":"bounds","offset":28,"dx":-2},
  "resolve":{"scale":{"xOffset":"independent"}},
  "layer":[
   {"data":{"name":"F_b"},"mark":{"type":"bar","stroke":"#4d4d4d","strokeWidth":1},
    "encoding":{"x":{"field":"c","type":"nominal","scale":{"domain":["CD74-/-","CD74-/-|+SCF","CD74-/-|+TPO","CD74-/-|+SCF|+TP0"],"paddingInner":0.33,"paddingOuter":0.33,"align":0.5},"axis":{"title":null,"labelExpr":"split(datum.label,'|')"}},
     "y":{"field":"y","type":"quantitative","scale":{"domain":[0,2],"nice":false},"axis":{"title":"% LSK from total BM","values":[0,0.5,1,1.5,2],"format":".1f","tickCount":20,"titleFontSize":9.5,"tickSize":3,"labelPadding":1,"titlePadding":1,"labelOverlap":false}},
     "fill":{"field":"g","type":"nominal","scale":{"domain":["WT","CD74-/-"],"range":["#ffffff","#a6a6a6"]},"legend":null}}},
   {"data":{"name":"F_b"},"mark":{"type":"rule","color":"#333"},"encoding":{"x":{"field":"c","type":"nominal"},"y":{"field":"lo","type":"quantitative"},"y2":{"field":"hi"}}},
   {"data":{"name":"F_b"},"transform":[{"fold":["lo","hi"],"as":["k","v"]}],"mark":{"type":"tick","orient":"horizontal","size":17,"thickness":1,"color":"#333"},"encoding":{"x":{"field":"c","type":"nominal"},"y":{"field":"v","type":"quantitative"}}},
   {"data":{"name":"F_p"},"mark":{"type":"point","filled":true,"color":"#111","size":20,"opacity":1},
    "encoding":{"x":{"field":"c","type":"nominal"},"xOffset":{"field":"j","type":"quantitative","scale":{"domain":[-1,1],"range":[1.47,27.47]}},"y":{"field":"y","type":"quantitative"},
     "shape":{"field":"c","type":"nominal","scale":{"domain":["CD74-/-","CD74-/-|+SCF","CD74-/-|+TPO","CD74-/-|+SCF|+TP0"],"range":["circle","square","triangle-up","triangle-down"]},"legend":null}}},
   {"data":{"values":[{"c":"CD74-/-","y":1.44,"y2":1.99}]},"mark":{"type":"rule","color":"#666"},"encoding":{"x":{"field":"c","type":"nominal","bandPosition":0},"y":{"field":"y","type":"quantitative"},"y2":{"field":"y2"}}},
   {"data":{"values":[{"c":"CD74-/-|+SCF","y":1.44,"y2":1.627},{"c":"CD74-/-|+TPO","y":1.653,"y2":1.813},{"c":"CD74-/-|+SCF|+TP0","y":1.867,"y2":1.99}]},"mark":{"type":"rule","color":"#666"},"encoding":{"x":{"field":"c","type":"nominal"},"y":{"field":"y","type":"quantitative"},"y2":{"field":"y2"}}},
   {"data":{"values":[{"c":"CD74-/-","c2":"CD74-/-|+SCF","y":1.627},{"c":"CD74-/-","c2":"CD74-/-|+TPO","y":1.813},{"c":"CD74-/-","c2":"CD74-/-|+SCF|+TP0","y":1.99}]},"mark":{"type":"rule","color":"#666"},"encoding":{"x":{"field":"c","type":"nominal","bandPosition":0},"x2":{"field":"c2"},"y":{"field":"y","type":"quantitative"}}},
   {"data":{"values":[{"c":"CD74-/-|+SCF","y":1.12},{"c":"CD74-/-|+TPO","y":1.296},{"c":"CD74-/-|+SCF|+TP0","y":1.653}]},"mark":{"type":"rule","color":"#555"},"encoding":{"x":{"field":"c","type":"nominal","bandPosition":0.12},"x2":{"field":"c","bandPosition":0.88},"y":{"field":"y","type":"quantitative"}}},
   {"data":{"values":[{"c":"CD74-/-|+SCF","y":1.12,"t":"*"},{"c":"CD74-/-|+TPO","y":1.296,"t":"**"},{"c":"CD74-/-|+SCF|+TP0","y":1.653,"t":"***"}]},"mark":{"type":"text","align":"center","baseline":"alphabetic","dy":1.5,"fontSize":8},"encoding":{"x":{"field":"c","type":"nominal"},"y":{"field":"y","type":"quantitative"},"text":{"field":"t"}}},
   {"data":{"values":[{"c":"CD74-/-","y":1.627,"t":"1.975"},{"c":"CD74-/-|+SCF","y":1.813,"t":"2.4"}]},"mark":{"type":"text","align":"center","baseline":"alphabetic","dx":1.5,"dy":-2,"fontSize":8},"encoding":{"x":{"field":"c","type":"nominal"},"y":{"field":"y","type":"quantitative"},"text":{"field":"t"}}},
   {"data":{"values":[{"c":"CD74-/-|+SCF|+TP0","y":1.99,"t":"3.15"}]},"mark":{"type":"text","align":"right","baseline":"alphabetic","dx":1,"dy":-2,"fontSize":8},"encoding":{"x":{"field":"c","type":"nominal"},"y":{"field":"y","type":"quantitative"},"text":{"field":"t"}}},
   {"data":{"values":[{"c":"CD74-/-","y":2.14,"t":"fold change"}]},"mark":{"type":"text","align":"left","baseline":"alphabetic","dx":-8,"fontSize":6.5},"encoding":{"x":{"field":"c","type":"nominal","bandPosition":0},"y":{"field":"y","type":"quantitative"},"text":{"field":"t"}}}
  ]}
 ]}
]}
]
}
